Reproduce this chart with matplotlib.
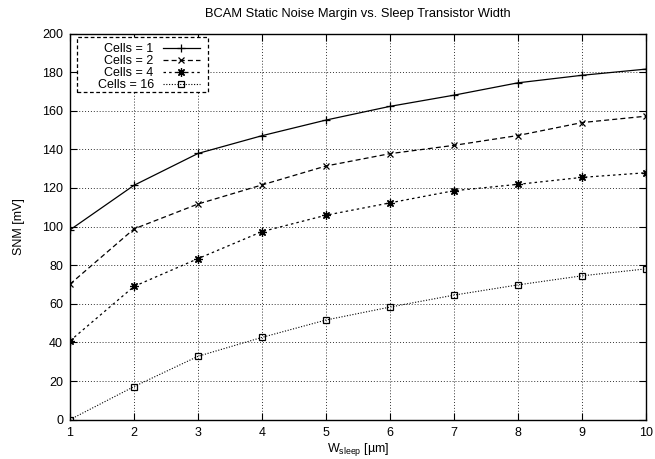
import matplotlib
matplotlib.use("Agg")
import matplotlib.pyplot as plt
from matplotlib.patches import Rectangle

plt.rcParams['font.family'] = ['Liberation Sans', 'DejaVu Sans']
plt.rcParams['mathtext.default'] = 'regular'

widths = [1, 2, 3, 4, 5, 6, 7, 8, 9, 10]
snm_cells1 = [98.3, 121.4, 137.9, 147.1, 155.2, 162.3, 168.1, 174.5, 178.4, 181.6]
snm_cells2 = [70.2, 98.8, 111.7, 121.6, 131.4, 137.8, 142.1, 147.2, 153.9, 157.2]
snm_cells4 = [40.8, 69.0, 83.4, 97.4, 105.9, 112.3, 118.6, 121.9, 125.5, 127.9]
snm_cells16 = [0.0, 17.1, 32.8, 42.6, 51.6, 58.3, 64.5, 69.8, 74.5, 78.1]
labels = ['Cells = 1', 'Cells = 2', 'Cells = 4', 'Cells = 16']
x_ticks = [1, 2, 3, 4, 5, 6, 7, 8, 9, 10]
y_ticks = [0, 20, 40, 60, 80, 100, 120, 140, 160, 180, 200]

fig = plt.figure(figsize=(6.55, 4.59), dpi=100)
ax = fig.add_axes([70/655, 1 - 419.6/459, 576/655, 386/459])

fs = 9
ax.plot(widths, snm_cells1, color='black', lw=0.9, ls='-', marker='+', ms=6, mew=0.9, label=labels[0])
ax.plot(widths, snm_cells2, color='black', lw=0.9, ls=(0, (4, 2.5)), marker='x', ms=5, mew=0.9, label=labels[1])
ax.plot(widths, snm_cells4, color='black', lw=0.9, ls=(0, (2, 2.5)), marker=(8, 2, 0), ms=6, mew=0.9, label=labels[2])
ax.plot(widths, snm_cells16, color='black', lw=0.8, ls=(0, (1, 1.5)), marker='s', ms=5, mew=0.9,
        mfc='none', label=labels[3])

ax.set_xlim(1, 10)
ax.set_ylim(0, 200)
ax.set_xticks(x_ticks)
ax.set_yticks(y_ticks)
ax.tick_params(direction='in', top=True, right=True, length=5, width=0.8, labelsize=fs, pad=5)
ax.grid(True, color='#333333', ls=(0, (1, 2)), lw=0.7)
for s in ax.spines.values():
    s.set_linewidth(1.0)

ax.set_title('BCAM Static Noise Margin vs. Sleep Transistor Width', fontsize=9.3, pad=12)
ax.set_xlabel('W$_{sleep}$ [µm]', fontsize=fs, labelpad=2)
ax.set_ylabel('SNM [mV]', fontsize=fs, labelpad=12)

leg = ax.legend(loc='upper right', bbox_to_anchor=((200 - 70) / 576, 0.9745), markerfirst=False, fontsize=fs,
                frameon=False, handlelength=3.0, borderpad=0.0, labelspacing=0.0,
                handletextpad=0.7, borderaxespad=0.0)
box = Rectangle(((77 - 70) / 576, (419.6 - 92) / 386), 131 / 576, 55 / 386, transform=ax.transAxes,
                fill=True, facecolor='white', edgecolor='black', lw=0.9, ls=(0, (3, 2)), zorder=4.5)
ax.add_patch(box)
leg.set_zorder(5)

fig.savefig('out.png', dpi=100)
